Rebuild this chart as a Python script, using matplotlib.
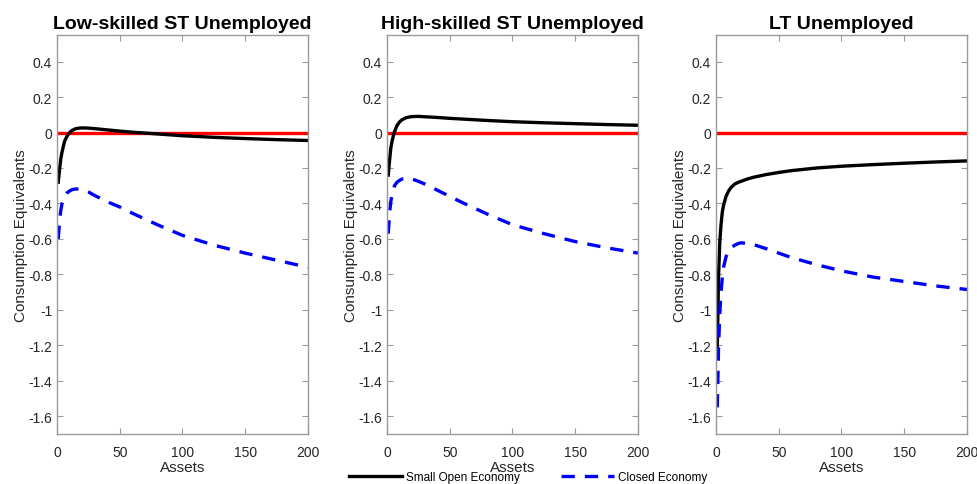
import matplotlib
matplotlib.use("Agg")
import matplotlib.pyplot as plt
from matplotlib.lines import Line2D

plt.rcParams['font.family'] = ['Liberation Sans', 'DejaVu Sans']

titles = ["Low-skilled ST Unemployed", "High-skilled ST Unemployed", "LT Unemployed"]

# assets grid per panel
assets = [1, 2, 3, 4, 5, 6, 8, 10, 12, 15, 18, 20, 25, 30, 40, 50, 60, 80, 100, 125, 150, 175, 200]

# small open economy (black)
soe_low = [-0.28, -0.21, -0.15, -0.11, -0.08, -0.05, -0.02, 0.00, 0.012, 0.022, 0.025, 0.026, 0.025, 0.022, 0.015, 0.008, 0.002, -0.008, -0.018, -0.027, -0.034, -0.040, -0.045]
soe_high = [-0.24, -0.16, -0.09, -0.05, -0.02, 0.005, 0.04, 0.06, 0.072, 0.083, 0.088, 0.090, 0.091, 0.089, 0.085, 0.080, 0.076, 0.068, 0.061, 0.055, 0.050, 0.045, 0.041]
soe_lt = [-1.22, -0.82, -0.62, -0.52, -0.45, -0.41, -0.36, -0.33, -0.31, -0.29, -0.28, -0.275, -0.262, -0.252, -0.237, -0.225, -0.215, -0.200, -0.190, -0.181, -0.173, -0.166, -0.160]
soe = [soe_low, soe_high, soe_lt]

# closed economy (blue dashed)
ce_low = [-0.60, -0.50, -0.44, -0.40, -0.38, -0.36, -0.34, -0.33, -0.322, -0.318, -0.320, -0.323, -0.335, -0.355, -0.39, -0.42, -0.455, -0.52, -0.58, -0.635, -0.68, -0.72, -0.76]
ce_high = [-0.57, -0.46, -0.39, -0.35, -0.32, -0.30, -0.28, -0.27, -0.262, -0.257, -0.258, -0.262, -0.275, -0.29, -0.325, -0.36, -0.395, -0.46, -0.52, -0.57, -0.615, -0.65, -0.68]
ce_lt = [-1.55, -1.22, -1.02, -0.90, -0.82, -0.76, -0.70, -0.67, -0.65, -0.635, -0.625, -0.622, -0.625, -0.632, -0.655, -0.68, -0.705, -0.745, -0.78, -0.815, -0.84, -0.865, -0.885]
ce = [ce_low, ce_high, ce_lt]

yticks = [0.4, 0.2, 0, -0.2, -0.4, -0.6, -0.8, -1, -1.2, -1.4, -1.6]
xticks = [0, 50, 100, 150, 200]

fig = plt.figure(figsize=(9.78, 4.85), dpi=100)
lefts = [57, 387, 716]
W, H = 978, 485
for i in range(3):
    ax = fig.add_axes([lefts[i] / W, 1 - 435 / H, 251 / W, (435 - 36) / H])
    ax.plot([1, 200], [0, 0], color='red', lw=2.4)
    ax.plot(assets, soe[i], color='black', lw=2.4)
    ax.plot(assets, ce[i], color='blue', lw=2.4, ls=(0, (4, 3)))
    ax.set_xlim(0, 200)
    ax.set_ylim(-1.7, 0.55)
    ax.set_xticks(xticks)
    ax.set_yticks(yticks)
    ax.set_yticklabels([f"{v:g}" for v in yticks])
    ax.tick_params(direction='in', top=True, right=True, labelsize=10,
                   labelcolor='#262626', color='#9a9a9a', length=4, width=0.8)
    ax.tick_params(axis='x', pad=8)
    for s in ax.spines.values():
        s.set_color('#9a9a9a')
        s.set_linewidth(1.0)
    ax.set_title(titles[i], fontsize=14, fontweight='bold', pad=5)
    ax.set_xlabel("Assets", fontsize=11, color='#262626', labelpad=1)
    ax.set_ylabel("Consumption Equivalents", fontsize=11, color='#262626', labelpad=0)

handles = [Line2D([], [], color='black', lw=2.4),
           Line2D([], [], color='blue', lw=2.4, ls=(0, (4, 3)))]
fig.legend(handles, ["Small Open Economy", "Closed Economy"], loc='center',
           bbox_to_anchor=(0.54, 1 - 478 / H), ncol=2, frameon=False,
           fontsize=8.5, handlelength=4.5, columnspacing=3.5, handletextpad=0.3)

fig.savefig("out.png", dpi=100)
